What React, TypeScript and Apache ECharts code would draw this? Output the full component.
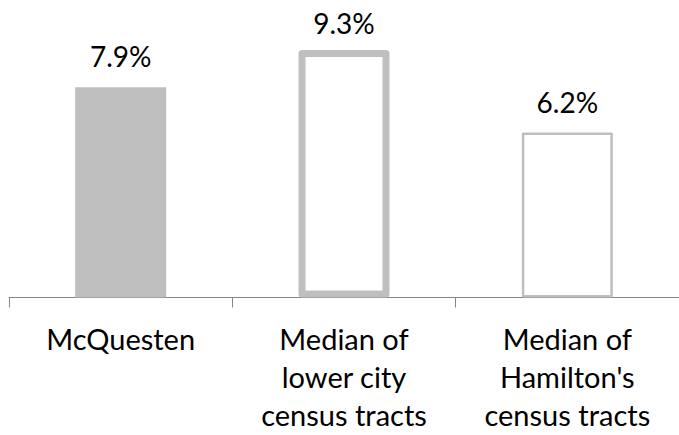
import React, { useEffect, useRef } from "react";
import * as echarts from "echarts";

const categories = ["McQuesten", "Median of\nlower city\ncensus tracts", "Median of\nHamilton's\ncensus tracts"];
const values = [7.9, 9.3, 6.2];
const valueLabels = ["7.9%", "9.3%", "6.2%"];

const FONT = "Lato, 'Open Sans', sans-serif";

export default function App() {
  const ref = useRef<HTMLDivElement>(null);
  useEffect(() => {
    if (!ref.current) return;
    const chart = echarts.init(ref.current, undefined, { renderer: "svg" });
    const styles = [
      { color: "#bfbfbf", borderWidth: 0, borderColor: "#bfbfbf" },
      { color: "#ffffff", borderWidth: 7, borderColor: "#bfbfbf" },
      { color: "#ffffff", borderWidth: 2.5, borderColor: "#bfbfbf" },
    ];
    const labelOffsets = [-17, -13, -17];
    chart.setOption({
      animation: false,
      backgroundColor: "#ffffff",
      grid: { left: 9, right: -6.5, top: 31.5, bottom: 137.5, containLabel: false },
      xAxis: {
        type: "category",
        data: categories,
        axisLine: { show: true, lineStyle: { color: "#868686", width: 1 } },
        axisTick: { show: true, length: 10, lineStyle: { color: "#868686" }, alignWithLabel: false },
        axisLabel: {
          interval: 0,
          color: "#000000",
          fontFamily: FONT,
          fontSize: 29,
          lineHeight: 38,
          margin: 22,
        },
      },
      yAxis: { type: "value", min: 0, max: 10, show: false, splitLine: { show: false } },
      series: [
        {
          type: "bar",
          barWidth: 91,
          data: values.map((v, i) => ({
            value: v,
            itemStyle: { ...styles[i], borderJoin: "round" },
            label: {
              show: true,
              position: "top",
              distance: 0,
              offset: [0, labelOffsets[i]],
              formatter: valueLabels[i],
              color: "#000000",
              fontFamily: FONT,
              fontSize: 28,
            },
          })),
        },
      ],
    });
    return () => chart.dispose();
  }, []);
  return (
    <div
      ref={ref}
      style={{ position: "fixed", left: 0, top: 0, width: 679, height: 435, background: "#fff" }}
    />
  );
}
